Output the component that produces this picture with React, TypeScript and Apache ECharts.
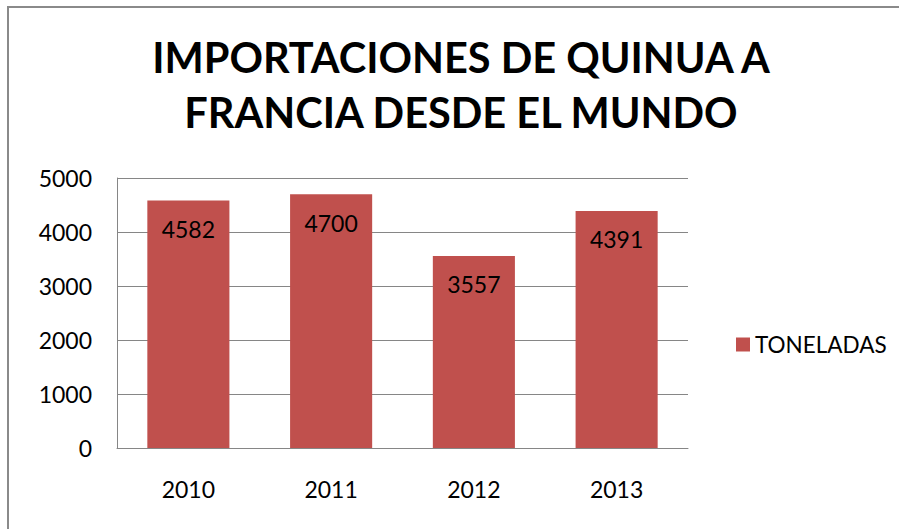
import React, { useEffect, useRef } from "react";
import * as echarts from "echarts";

const categories = ["2010", "2011", "2012", "2013"];
const toneladas = [4582, 4700, 3557, 4391];
const seriesName = "TONELADAS";
const titleLines = ["IMPORTACIONES DE QUINUA A", "FRANCIA DESDE EL MUNDO"];

const FONT = "Lato, 'Open Sans', sans-serif";

export default function App() {
  const ref = useRef<HTMLDivElement>(null);
  useEffect(() => {
    if (!ref.current) return;
    const chart = echarts.init(ref.current, null, { renderer: "svg" });
    chart.setOption({
      animation: false,
      backgroundColor: "#ffffff",
      textStyle: { fontFamily: FONT },
      title: {
        text: titleLines.join("\n"),
        left: 456,
        textAlign: "center",
        top: 24,
        textStyle: {
          fontFamily: FONT,
          fontWeight: "bold",
          fontSize: 41.5,
          lineHeight: 55,
          color: "#000000",
        },
      },
      graphic: [
        {
          type: "rect",
          shape: { x: 8, y: 7, width: 1000, height: 1000 },
          style: { fill: "none", stroke: "#8a8a8a", lineWidth: 2 },
          silent: true,
        },
      ],
      legend: {
        data: [seriesName],
        left: 731,
        top: 328,
        icon: "rect",
        itemWidth: 14,
        itemHeight: 14,
        itemGap: 10,
        textStyle: { fontFamily: FONT, fontSize: 22.5, color: "#000000" },
      },
      grid: { left: 117, right: 211, top: 178, bottom: 81, containLabel: false },
      xAxis: {
        type: "category",
        data: categories,
        axisLine: { show: true, lineStyle: { color: "#868686", width: 1 } },
        axisTick: { show: false },
        axisLabel: { fontFamily: FONT, fontSize: 23, color: "#000000", margin: 29 },
      },
      yAxis: {
        type: "value",
        min: 0,
        max: 5000,
        interval: 1000,
        axisLine: { show: true, lineStyle: { color: "#868686", width: 1 } },
        axisTick: { show: false },
        splitLine: { show: true, lineStyle: { color: "#868686", width: 1 } },
        axisLabel: {
          fontFamily: FONT,
          fontSize: 23,
          color: "#000000",
          margin: 25,
          formatter: (v: number) => String(v),
        },
      },
      series: [
        {
          name: seriesName,
          type: "bar",
          data: toneladas,
          barWidth: "57.5%",
          itemStyle: { color: "#C0504D" },
          label: {
            show: true,
            position: "insideTop",
            distance: 17,
            fontFamily: FONT,
            fontSize: 23,
            color: "#000000",
          },
        },
      ],
    });
    return () => chart.dispose();
  }, []);
  return (
    <div
      ref={ref}
      style={{ position: "fixed", left: 0, top: 0, width: 899, height: 529 }}
    />
  );
}
